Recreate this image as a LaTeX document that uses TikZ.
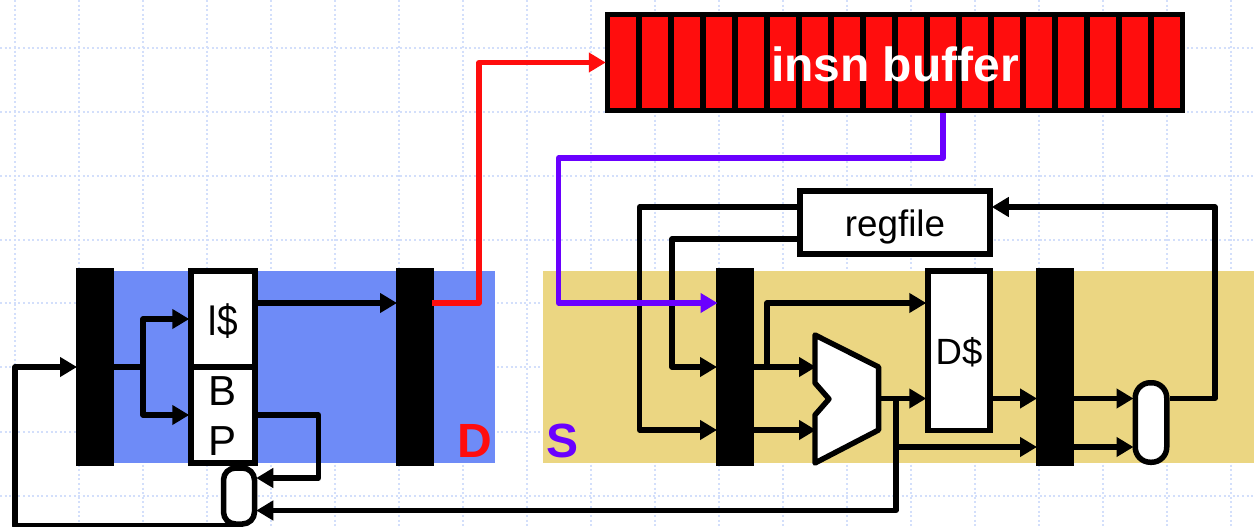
\documentclass[tikz,border=0pt]{standalone}
\usepackage{fontspec}
\setmainfont{Liberation Sans}
\usetikzlibrary{arrows.meta,calc}
\definecolor{gridc}{HTML}{D3DFFB}
\definecolor{bluebg}{HTML}{6E8BF7}
\definecolor{tanbg}{HTML}{EBD682}
\definecolor{redc}{HTML}{FF0D0D}
\definecolor{purp}{HTML}{6A00FF}
\tikzset{
  gridline/.style={gridc,line width=2pt,dash pattern=on 2pt off 2.6pt},
  latchbar/.style={fill=black,draw=none,inner sep=0pt,outer sep=0pt,minimum width=38pt,minimum height=198pt},
  boxn/.style={draw=black,fill=white,line width=5.5pt,inner sep=0pt,outer sep=2.75pt},
  pill/.style={boxn,rounded corners=12pt},
  wire/.style={black,line width=5.4pt,line join=round,shorten >=-1pt},
  arr/.style={-{Triangle[length=17pt,width=19pt]}},
  lab/.style={font=\fontsize{36.5}{40}\selectfont,anchor=base,inner sep=0pt},
  biglab/.style={font=\fontsize{48}{50}\selectfont\bfseries,inner sep=0pt},
}
\begin{document}
\begin{tikzpicture}[x=1pt,y=-1pt]
\useasboundingbox (0,0) rectangle (1254,527);
\fill[white] (0,0) rectangle (1254,527);
% grid
\foreach \gx in {15,79,143,207,271,335,399,463,527,591,655,719,783,847,911,975,1039,1103,1167,1231}
  \draw[gridline] (\gx,0) -- (\gx,527);
\foreach \gy in {48,112,176,240,303,367,432,496}
  \draw[gridline] (0,\gy) -- (1254,\gy);
% stage backgrounds
\fill[bluebg] (90,271) rectangle (495,463);
\fill[tanbg] (543,271) rectangle (1254,463);
% helper rows and columns
\coordinate (rowA) at (0,303);
\coordinate (rowB) at (0,367);
\coordinate (rowC) at (0,430);
\coordinate (rowD) at (0,398.5);
\coordinate (rowE) at (0,447);
\coordinate (rowF) at (0,478);
\coordinate (rowG) at (0,510.5);
\coordinate (rowH) at (0,207);
\coordinate (rowI) at (0,239);
\coordinate (rowJ) at (0,526);
\coordinate (rowK) at (0,158);
\coordinate (colA) at (143,0);
\coordinate (colB) at (318.5,0);
\coordinate (colC) at (15,0);
\coordinate (colD) at (479,0);
\coordinate (colE) at (558.5,0);
\coordinate (colF) at (943,0);
\coordinate (colG) at (639.5,0);
\coordinate (colH) at (672,0);
\coordinate (colI) at (767,0);
\coordinate (colJ) at (896,0);
\coordinate (colK) at (1215,0);
% pipeline latches
\node[latchbar] (bar1) at (95,367) {};
\node[latchbar] (bar2) at (415,367) {};
\node[latchbar] (bar3) at (735,367) {};
\node[latchbar] (bar4) at (1055,367) {};
% boxes
\node[boxn,minimum width=64pt,minimum height=96pt] (ic) at (223,319) {};
\node[boxn,minimum width=64pt,minimum height=96pt] (bp) at (223,415) {};
\node[lab,font=\fontsize{43}{45}\selectfont] (iclab) at (223,335) {\scalebox{.86}[1]{I\$}};
\node[lab,font=\fontsize{42}{45}\selectfont] (blab) at (223,405) {B};
\node[lab,font=\fontsize{42}{45}\selectfont] (plab) at (223,455) {P};
\node[pill,minimum width=31pt,minimum height=56pt] (mux1) at (239,496) {};
\node[boxn,minimum width=190pt,minimum height=63pt] (regf) at (895,222.5) {};
\node[lab,font=\fontsize{36.8}{40}\selectfont] (regflab) at (895,236) {regfile};
\node[boxn,minimum width=62pt,minimum height=159.5pt] (dc) at (959,350.5) {};
\node[lab] (dclab) at (959,364.5) {D\$};
\node[pill,minimum width=31.5pt,minimum height=79.5pt,rounded corners=15pt] (mux2) at (1151,422.5) {};
% ALU
\node[inner sep=0pt,outer sep=0pt,minimum width=64pt,minimum height=128pt] (alu) at (847,399) {};
\draw[black,fill=white,line width=5.4pt,line join=round]
  (alu.north west) -- (878.6,367) -- (878.6,430) -- (alu.south west)
  -- (815,415) -- (829,399) -- (815,383) -- cycle;
% insn buffer
\node[draw=black,fill=redc,line width=5.5pt,inner sep=0pt,outer sep=2.75pt,minimum width=575pt,minimum height=96pt] (insn) at (895,62.5) {};
\foreach \k in {0,...,16}
  \draw[black,line width=6pt] (639+32*\k,15) -- (639+32*\k,111);
\node[biglab,text=white] (insnlab) at (895,64) {insn buffer};
% stage letters
\node[biglab,text=redc] (dlab) at (475,441) {D};
\node[biglab,text=purp] (slab) at (563,441) {S};
% fetch stage wires
\draw[wire] (bar1.east) -- (colA |- rowB);
\draw[wire,arr] (colA |- rowB) |- (ic.west);
\draw[wire,arr] (colA |- rowB) |- (bp.west);
\draw[wire,arr] (ic.east |- rowA) -- (bar2.west |- rowA);
\draw[wire,arr] (bp.east) -| (colB |- rowF) -- (mux1.east |- rowF);
\draw[wire,arr] (mux1.south |- rowJ) -- (colC |- rowJ) -- (colC |- rowB) -- (bar1.west);
% execute stage wires
\draw[wire,arr] (regf.west |- rowH) -| (colG |- rowC) -- (bar3.west |- rowC);
\draw[wire,arr] (regf.west |- rowI) -| (colH |- rowB) -- (bar3.west |- rowB);
\draw[wire,arr] (bar3.east |- rowB) -- (alu.west |- rowB);
\draw[wire,arr] (bar3.east |- rowC) -- (alu.west |- rowC);
\draw[wire,arr] (colI |- rowB) -- (colI |- rowA) -- (dc.west |- rowA);
\draw[wire,arr] (881,398.5) -- (dc.west |- rowD);
\draw[wire,arr] (colJ |- rowD) -- (colJ |- rowG) -- (mux1.east |- rowG);
\draw[wire,arr] (colJ |- rowE) -- (bar4.west |- rowE);
\draw[wire,arr] (dc.east |- rowD) -- (bar4.west |- rowD);
\draw[wire,arr] (bar4.east |- rowD) -- (mux2.west |- rowD);
\draw[wire,arr] (bar4.east |- rowE) -- (mux2.west |- rowE);
\draw[wire,arr] (mux2.east |- rowD) -- (colK |- rowD) -- (colK |- rowH) -- (regf.east |- rowH);
% coloured wires
\draw[line width=5.4pt,redc,line join=round,shorten >=-1pt,arr] ($(bar2.east |- rowA)+(-2,0)$) -- (colD |- rowA) -- (colD |- insn.west) -- (insn.west);
\draw[line width=5.4pt,purp,line join=round,shorten >=-1.5pt,arr] (colF |- insn.south) -- (colF |- rowK) -- (colE |- rowK) -- (colE |- rowA) -- (bar3.west |- rowA);
\end{tikzpicture}
\end{document}
